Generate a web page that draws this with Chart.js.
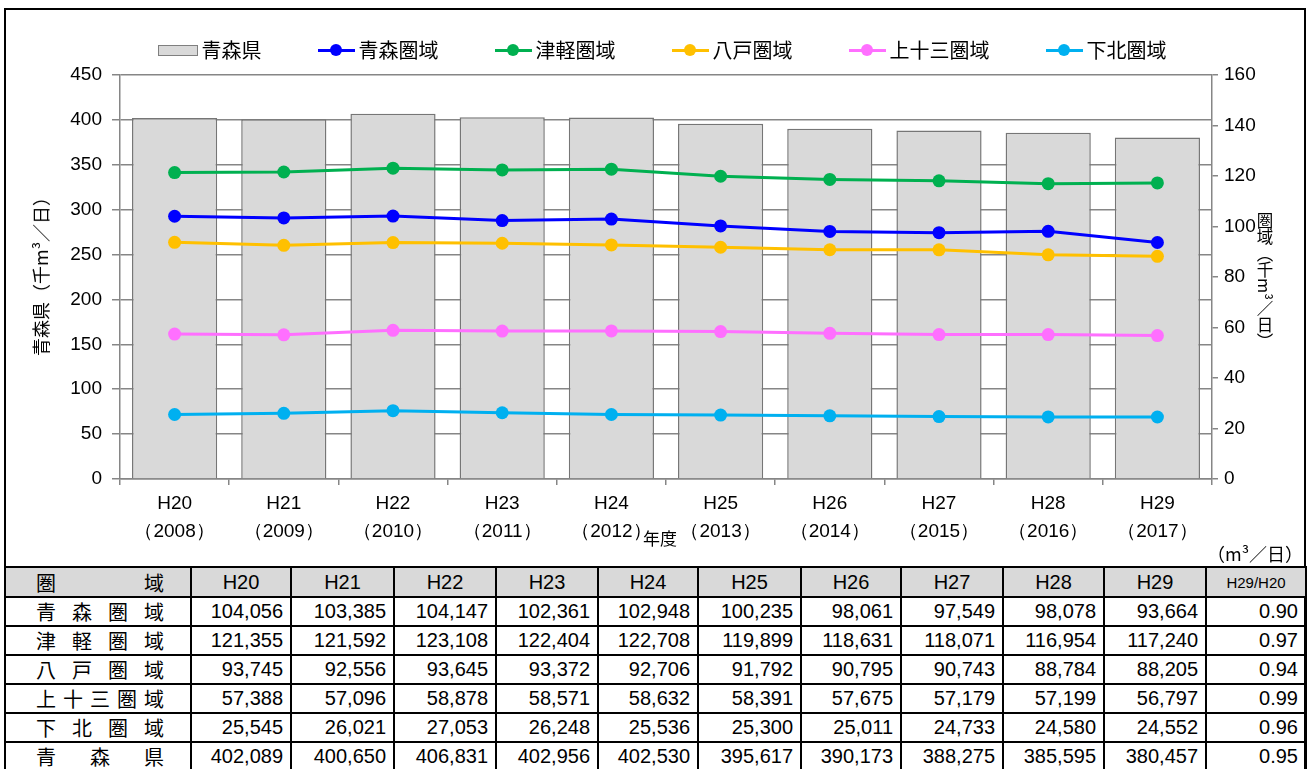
<!DOCTYPE html>
<html lang="ja">
<head>
<meta charset="utf-8">
<script src="https://cdn.jsdelivr.net/npm/chart.js@4/dist/chart.umd.min.js"></script>
<style>
  body { margin: 0; background: #fff; }
  #page { position: relative; width: 1308px; height: 769px; overflow: hidden;
          font-family: "Liberation Sans", Arial, "Noto Sans CJK JP", sans-serif; color: #000; }
  #frame { position: absolute; left: 4px; top: 8px; width: 1298px; height: 790px; border: 2.5px solid #000; }
  #chart { position: absolute; left: 0; top: 0; }
  #legend { position: absolute; left: 112px; width: 1100px; top: 37px; display: flex;
            justify-content: center; gap: 56px; font-family: "Noto Sans CJK JP", sans-serif; font-size: 20px; }
  .item { display: flex; align-items: center; gap: 4px; line-height: 26px; }
  .sw { position: relative; width: 37px; height: 14px; }
  .sw .ln { position: absolute; left: 0; right: 0; top: 5.5px; height: 3px; }
  .sw .pt { position: absolute; left: 12.5px; top: 1px; width: 12px; height: 12px; border-radius: 50%; }
  .sw.box { width: 40px; height: 11px; background: #d9d9d9; border: 1px solid #7f7f7f; box-sizing: border-box; }
  .ttl { position: absolute; font-family: "Noto Sans CJK JP", sans-serif; font-size: 17px; white-space: nowrap; }
  #ttlL { left: 40px; top: 272px; transform: translate(-50%, -50%) rotate(-90deg); font-size: 18px; }
  #ttlR { left: 1253px; top: 212px; writing-mode: vertical-rl; font-size: 16.5px; }
  #ttlX { left: 643px; top: 525px; font-size: 17px; }
  #unit { left: 1207px; top: 540px; font-size: 18px; }
  table { position: absolute; left: 4px; top: 566px; border-collapse: collapse; table-layout: fixed;
          font-size: 20px; }
  td { border: 2px solid #000; height: 27px; padding: 0 7px 0 0; text-align: right; line-height: 25px; }
  tr.head td { background: #d9d9d9; text-align: center; padding: 0; height: 28px; }
  td.lab { font-family: "Noto Sans CJK JP", sans-serif; text-align: justify; text-align-last: justify;
           padding: 0 26px 0 30px; font-size: 20px; }
  tr.head td.lab { text-align: justify; padding: 0 26px 0 30px; }
  td.small { font-size: 15px; }
</style>
</head>
<body>
<div id="page">
  <div id="frame"></div>
  <canvas id="chart" width="1308" height="560"></canvas>
  <div id="legend"></div>
  <div class="ttl" id="ttlL">青森県（千m³／日）</div>
  <div class="ttl" id="ttlR">圏域（千m³／日）</div>
  <div class="ttl" id="ttlX">年度</div>
  <div class="ttl" id="unit">（m³／日）</div>
  <table id="tbl"></table>
</div>
<script>
  // 年度
  const years = ["H20", "H21", "H22", "H23", "H24", "H25", "H26", "H27", "H28", "H29"];
  const westernYears = ["2008", "2009", "2010", "2011", "2012", "2013", "2014", "2015", "2016", "2017"];

  // 給水量 (m3/日)
  const aomoriKen   = [402089, 400650, 406831, 402956, 402530, 395617, 390173, 388275, 385595, 380457];
  const aomoriArea  = [104056, 103385, 104147, 102361, 102948, 100235, 98061, 97549, 98078, 93664];
  const tsugaruArea = [121355, 121592, 123108, 122404, 122708, 119899, 118631, 118071, 116954, 117240];
  const hachinoheArea = [93745, 92556, 93645, 93372, 92706, 91792, 90795, 90743, 88784, 88205];
  const kamitosanArea = [57388, 57096, 58878, 58571, 58632, 58391, 57675, 57179, 57199, 56797];
  const shimokitaArea = [25545, 26021, 27053, 26248, 25536, 25300, 25011, 24733, 24580, 24552];

  // H29/H20
  const ratios = ["0.90", "0.97", "0.94", "0.99", "0.96", "0.95"];

  const kenLabel = "青森県";
  const areaNames = ["青森圏域", "津軽圏域", "八戸圏域", "上十三圏域", "下北圏域"];
  const areaSeries = [aomoriArea, tsugaruArea, hachinoheArea, kamitosanArea, shimokitaArea];
  const areaColors = ["#0000ff", "#00b050", "#ffc000", "#ff6fff", "#00b0f0"];

  const thousand = arr => arr.map(v => v / 1000);

  const datasets = [{
    type: "bar",
    label: kenLabel,
    data: thousand(aomoriKen),
    yAxisID: "y",
    backgroundColor: "#d9d9d9",
    borderColor: "#767676",
    borderWidth: 1.5,
    barPercentage: 0.78,
    categoryPercentage: 1,
    order: 1,
  }];
  areaNames.forEach((name, i) => {
    datasets.push({
      type: "line",
      label: name,
      data: thousand(areaSeries[i]),
      yAxisID: "y1",
      borderColor: areaColors[i],
      backgroundColor: areaColors[i],
      borderWidth: 3,
      pointRadius: 6.5,
      pointBorderWidth: 0,
      tension: 0,
      order: 0,
    });
  });

  const tickFont = { family: "'Liberation Sans', Arial", size: 19, lineHeight: 1.45 };
  const axisGray = "#868686";

  new Chart(document.getElementById("chart"), {
    data: { labels: years.map((y, i) => [y, "（" + westernYears[i] + "）"]), datasets },
    options: {
      responsive: false,
      animation: false,
      layout: { padding: { top: 75, left: 0, right: 0, bottom: 0 } },
      plugins: { legend: { display: false }, tooltip: { enabled: false } },
      scales: {
        x: {
          offset: true,
          grid: { offset: true, drawOnChartArea: false, color: axisGray, tickLength: 6, lineWidth: 1.5 },
          border: { color: axisGray, width: 1.5 },
          ticks: { color: "#000", font: tickFont, padding: 5, maxRotation: 0 },
          afterFit: s => { s.height = 81; },
        },
        y: {
          position: "left",
          min: 0, max: 450,
          ticks: { stepSize: 50, color: "#000", font: tickFont, padding: 10 },
          grid: { color: axisGray, lineWidth: 1.5, tickLength: 8 },
          border: { color: axisGray, width: 1.5 },
          afterFit: s => { s.width = 120; },
        },
        y1: {
          position: "right",
          min: 0, max: 160,
          ticks: { stepSize: 20, color: "#000", font: tickFont, padding: 6 },
          grid: { drawOnChartArea: false, color: axisGray, lineWidth: 1.5, tickLength: 6 },
          border: { color: axisGray, width: 1.5 },
          afterFit: s => { s.width = 96; },
        },
      },
    },
  });

  // 凡例
  const legend = document.getElementById("legend");
  function addItem(label, color, isBar) {
    const it = document.createElement("div");
    it.className = "item";
    const sw = document.createElement("div");
    if (isBar) {
      sw.className = "sw box";
    } else {
      sw.className = "sw";
      sw.innerHTML = `<div class="ln" style="background:${color}"></div><div class="pt" style="background:${color}"></div>`;
    }
    const tx = document.createElement("span");
    tx.textContent = label;
    it.appendChild(sw);
    it.appendChild(tx);
    legend.appendChild(it);
  }
  addItem(kenLabel, null, true);
  areaNames.forEach((n, i) => addItem(n, areaColors[i], false));

  // 表
  const colWidths = [186, 100, 103, 102, 102, 100, 103, 100, 102, 101, 102, 100];
  const fmt = v => v.toLocaleString("en-US");
  const tbl = document.getElementById("tbl");
  const cg = document.createElement("colgroup");
  colWidths.forEach(w => { const c = document.createElement("col"); c.style.width = w + "px"; cg.appendChild(c); });
  tbl.appendChild(cg);

  let html = `<tr class="head"><td class="lab">圏域</td>` +
    years.map(y => `<td>${y}</td>`).join("") + `<td class="small">H29/H20</td></tr>`;
  const rowNames = areaNames.concat([kenLabel]);
  const rowData = areaSeries.concat([aomoriKen]);
  rowNames.forEach((n, r) => {
    html += `<tr><td class="lab">${n}</td>` +
      rowData[r].map(v => `<td>${fmt(v)}</td>`).join("") + `<td>${ratios[r]}</td></tr>`;
  });
  tbl.innerHTML += html;
</script>
</body>
</html>
